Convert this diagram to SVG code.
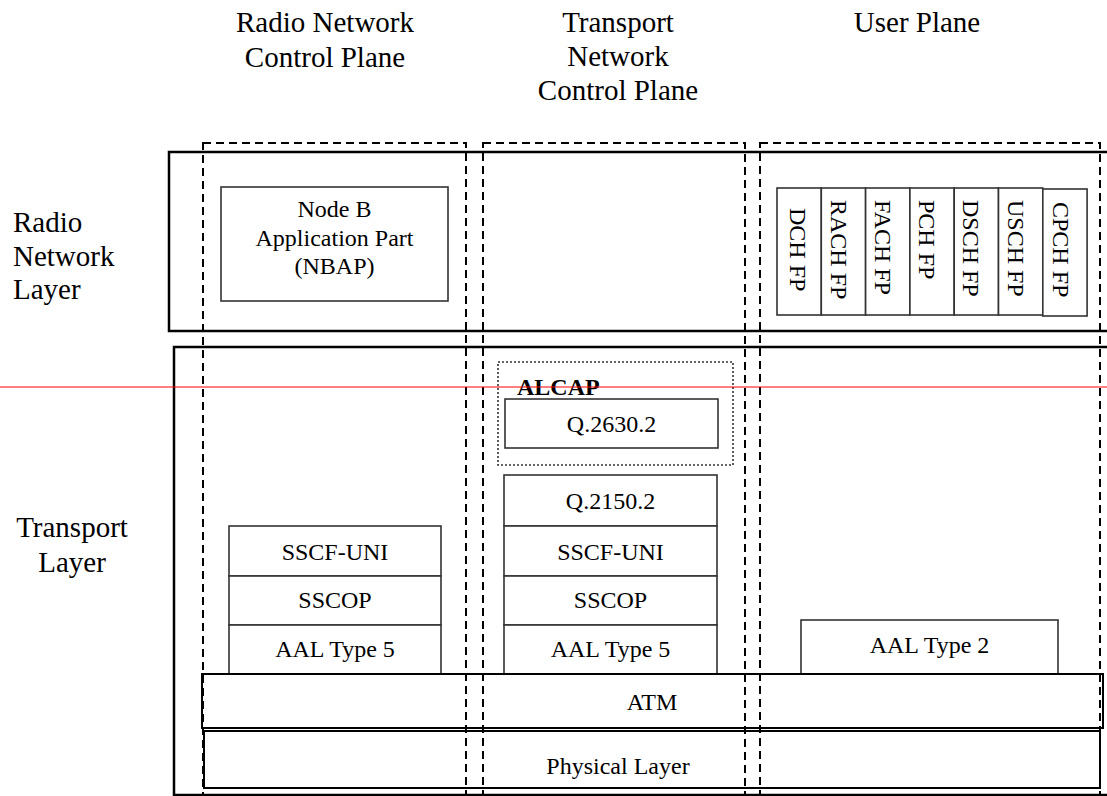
<svg xmlns="http://www.w3.org/2000/svg" width="1107" height="796" viewBox="0 0 1107 796">
<style>
text{font-family:"Liberation Serif","Times New Roman",serif;fill:#000}
.hdr{font-size:29px;text-anchor:middle}
.lbl{font-size:29px}
.t24{font-size:24px;text-anchor:middle}
.fp{font-size:24px}
.layer{fill:none;stroke:#000;stroke-width:2.5}
.plane{fill:none;stroke:#000;stroke-width:2;stroke-dasharray:8 5}
.box{fill:#fff;stroke:#333;stroke-width:1.6}
.bar{fill:none;stroke:#000;stroke-width:2}
</style>
<rect width="1107" height="796" fill="#fff"/>

<g id="headers">
<text class="hdr" x="325" y="32">Radio Network</text>
<text class="hdr" x="325" y="67">Control Plane</text>
<text class="hdr" x="618" y="32">Transport</text>
<text class="hdr" x="618" y="66">Network</text>
<text class="hdr" x="618" y="100">Control Plane</text>
<text class="hdr" x="917" y="32">User Plane</text>
</g>

<g id="layer-labels">
<text class="lbl" x="13" y="232">Radio</text>
<text class="lbl" x="13" y="266">Network</text>
<text class="lbl" x="13" y="299">Layer</text>
<text class="lbl" x="72" y="537" text-anchor="middle">Transport</text>
<text class="lbl" x="72" y="572" text-anchor="middle">Layer</text>
</g>

<g id="radio-network-layer">
<rect class="layer" x="169" y="152" width="945" height="179"/>
</g>
<g id="transport-layer">
<rect class="layer" x="174" y="347" width="945" height="448"/>
</g>

<g id="nbap">
<rect class="box" x="221" y="187" width="227" height="114"/>
<text class="t24" x="334.5" y="217">Node B</text>
<text class="t24" x="334.5" y="246">Application Part</text>
<text class="t24" x="334.5" y="274">(NBAP)</text>
</g>

<g id="fp-boxes">
<rect class="box" x="777" y="188" width="44.3" height="127"/>
<rect class="box" x="821.3" y="188" width="44.3" height="127"/>
<rect class="box" x="865.6" y="188" width="44.3" height="127"/>
<rect class="box" x="909.9" y="188" width="44.3" height="127"/>
<rect class="box" x="954.2" y="188" width="44.3" height="127"/>
<rect class="box" x="998.5" y="188" width="44.3" height="127"/>
<rect class="box" x="1042.8" y="189" width="44.3" height="127"/>
<text class="fp" transform="translate(790,208) rotate(90)">DCH FP</text>
<text class="fp" transform="translate(831,200) rotate(90)">RACH FP</text>
<text class="fp" transform="translate(875,200) rotate(90)">FACH FP</text>
<text class="fp" transform="translate(919,200) rotate(90)">PCH FP</text>
<text class="fp" transform="translate(963,200) rotate(90)">DSCH FP</text>
<text class="fp" transform="translate(1008,200) rotate(90)">USCH FP</text>
<text class="fp" transform="translate(1053,202) rotate(90)">CPCH FP</text>
</g>

<g id="alcap">
<rect x="498" y="362" width="235" height="103" fill="none" stroke="#333" stroke-width="1.6" stroke-dasharray="2 2"/>
<text x="517" y="395" font-size="24" font-weight="bold">ALCAP</text>
</g>
<g id="q2630">
<rect class="box" x="505" y="399" width="213" height="49"/>
<text class="t24" x="611.5" y="432">Q.2630.2</text>
</g>

<g id="rnc-stack">
<rect class="box" x="229" y="526" width="212" height="50"/>
<text class="t24" x="335" y="560">SSCF-UNI</text>
<rect class="box" x="229" y="576" width="212" height="49"/>
<text class="t24" x="335" y="608">SSCOP</text>
<rect class="box" x="229" y="625" width="212" height="49"/>
<text class="t24" x="335" y="657">AAL Type 5</text>
</g>

<g id="tnc-stack">
<rect class="box" x="504" y="475" width="213" height="51"/>
<text class="t24" x="610.5" y="509">Q.2150.2</text>
<rect class="box" x="504" y="526" width="213" height="50"/>
<text class="t24" x="610.5" y="560">SSCF-UNI</text>
<rect class="box" x="504" y="576" width="213" height="49"/>
<text class="t24" x="610.5" y="608">SSCOP</text>
<rect class="box" x="504" y="625" width="213" height="49"/>
<text class="t24" x="610.5" y="657">AAL Type 5</text>
</g>

<g id="aal2">
<rect class="box" x="801" y="620" width="257" height="54"/>
<text class="t24" x="929.5" y="653">AAL Type 2</text>
</g>

<g id="atm">
<rect class="bar" x="202" y="674" width="901" height="54"/>
<text class="t24" x="652" y="710">ATM</text>
</g>
<g id="physical">
<rect class="bar" x="204" y="731" width="896" height="57"/>
<text class="t24" x="618" y="774">Physical Layer</text>
</g>

<g id="planes">
<rect class="plane" x="203" y="143" width="263" height="670"/>
<rect class="plane" x="483" y="143" width="262" height="670"/>
<rect class="plane" x="760" y="143" width="340" height="670"/>
</g>

<g id="connectors">
<line x1="0" y1="387" x2="1107" y2="387" stroke="#f00" stroke-width="1"/>
</g>
</svg>
